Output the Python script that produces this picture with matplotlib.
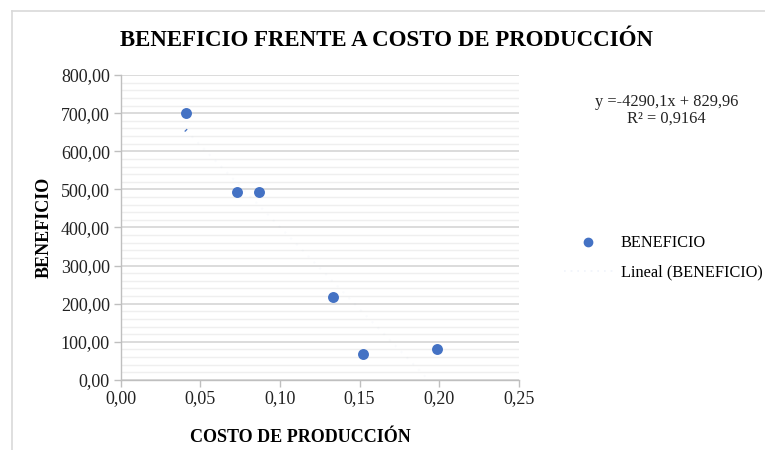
import matplotlib
matplotlib.use("Agg")
import matplotlib.pyplot as plt
import numpy as np
from matplotlib.ticker import MultipleLocator, FuncFormatter
from matplotlib.lines import Line2D

plt.rcParams['font.family'] = ['Liberation Serif', 'DejaVu Serif']

# Data
costo = [0.0408, 0.0729, 0.0867, 0.1332, 0.1520, 0.1985]
beneficio = [700.0, 493.0, 493.0, 218.0, 68.0, 80.0]
pendiente = -4290.1
intercepto = 829.96
r2 = 0.9164

x_ticks = [0.00, 0.05, 0.10, 0.15, 0.20, 0.25]
y_ticks = [0, 100, 200, 300, 400, 500, 600, 700, 800]

blue = '#4472C4'

fig = plt.figure(figsize=(7.65, 4.5), dpi=100)
ax = fig.add_axes([0.158, 0.1556, 0.520, 0.6777])

# Gridlines
ax.yaxis.set_minor_locator(MultipleLocator(20))
ax.grid(axis='y', which='major', color='#d9d9d9', linewidth=1.3, zorder=0)
ax.grid(axis='y', which='minor', color='#efefef', linewidth=1.0, zorder=0)
ax.tick_params(axis='y', which='minor', length=0)

# Data points
ax.scatter(costo, beneficio, s=62, color=blue, zorder=3, linewidths=0, label='BENEFICIO')

# Linear trend line (very faint dotted)
xt = np.array([min(costo), max(costo)])
ax.plot(xt, pendiente * xt + intercepto, linestyle=(0, (1, 3)), color=blue,
        alpha=0.025, linewidth=1.5, zorder=2)
ax.plot([xt[0] - 0.0004, xt[0] + 0.0006],
        [pendiente * xt[0] + intercepto - 2, pendiente * xt[0] + intercepto + 2],
        color=blue, linewidth=0.9, zorder=2)

ax.set_xlim(0, 0.25)
ax.set_ylim(0, 800)
ax.set_xticks(x_ticks)
ax.set_yticks(y_ticks)
ax.xaxis.set_major_formatter(FuncFormatter(lambda v, p: f"{v:.2f}".replace('.', ',')))
ax.yaxis.set_major_formatter(FuncFormatter(lambda v, p: f"{v:.2f}".replace('.', ',')))

for side in ['top', 'right']:
    ax.spines[side].set_visible(False)
for side in ['left', 'bottom']:
    ax.spines[side].set_color('#bfbfbf')
    ax.spines[side].set_linewidth(1.0)
ax.tick_params(axis='both', which='major', color='#bfbfbf', length=5, width=1.0,
               labelsize=13, labelcolor='#222222', pad=3)
ax.tick_params(axis='x', pad=2)

ax.set_ylabel('BENEFICIO', fontsize=13, fontweight='bold', labelpad=6)
fig.text(300 / 765, 1 - 437 / 450, 'COSTO DE PRODUCCIÓN', ha='center', va='center',
         fontsize=13, fontweight='bold')
fig.text(386 / 765, 1 - 40 / 450, 'BENEFICIO FRENTE A COSTO DE PRODUCCIÓN',
         ha='center', va='center', fontsize=16.5, fontweight='bold')

# Equation of the trend line
eq = f"y = {pendiente:.1f}x + {intercepto:.2f}".replace('.', ',').replace('= -', '=-')
fig.text(0.871, 0.773, eq, ha='center', va='center', fontsize=11.8, color='#222222')
fig.text(0.871, 0.737, f"R² = {r2:.4f}".replace('.', ','), ha='center', va='center',
         fontsize=11.8, color='#222222')

# Legend
handles = [
    Line2D([], [], marker='o', linestyle='none', color=blue, markersize=6),
    Line2D([], [], linestyle=(0, (1, 3)), color=blue, alpha=0.08, linewidth=1.2),
]
fig.legend(handles, ['BENEFICIO', 'Lineal (BENEFICIO)'], loc='center left',
           bbox_to_anchor=(0.718, 0.427), frameon=False, fontsize=11.7,
           handlelength=3.0, labelspacing=0.8, handletextpad=0.5)

# Chart border
fig.add_artist(Line2D([0.016, 0.016], [0, 0.976], transform=fig.transFigure,
                      color='#d9d9d9', linewidth=1.2))
fig.add_artist(Line2D([0.016, 1.0], [0.976, 0.976], transform=fig.transFigure,
                      color='#d9d9d9', linewidth=1.2))

fig.savefig('out.png', dpi=100)
